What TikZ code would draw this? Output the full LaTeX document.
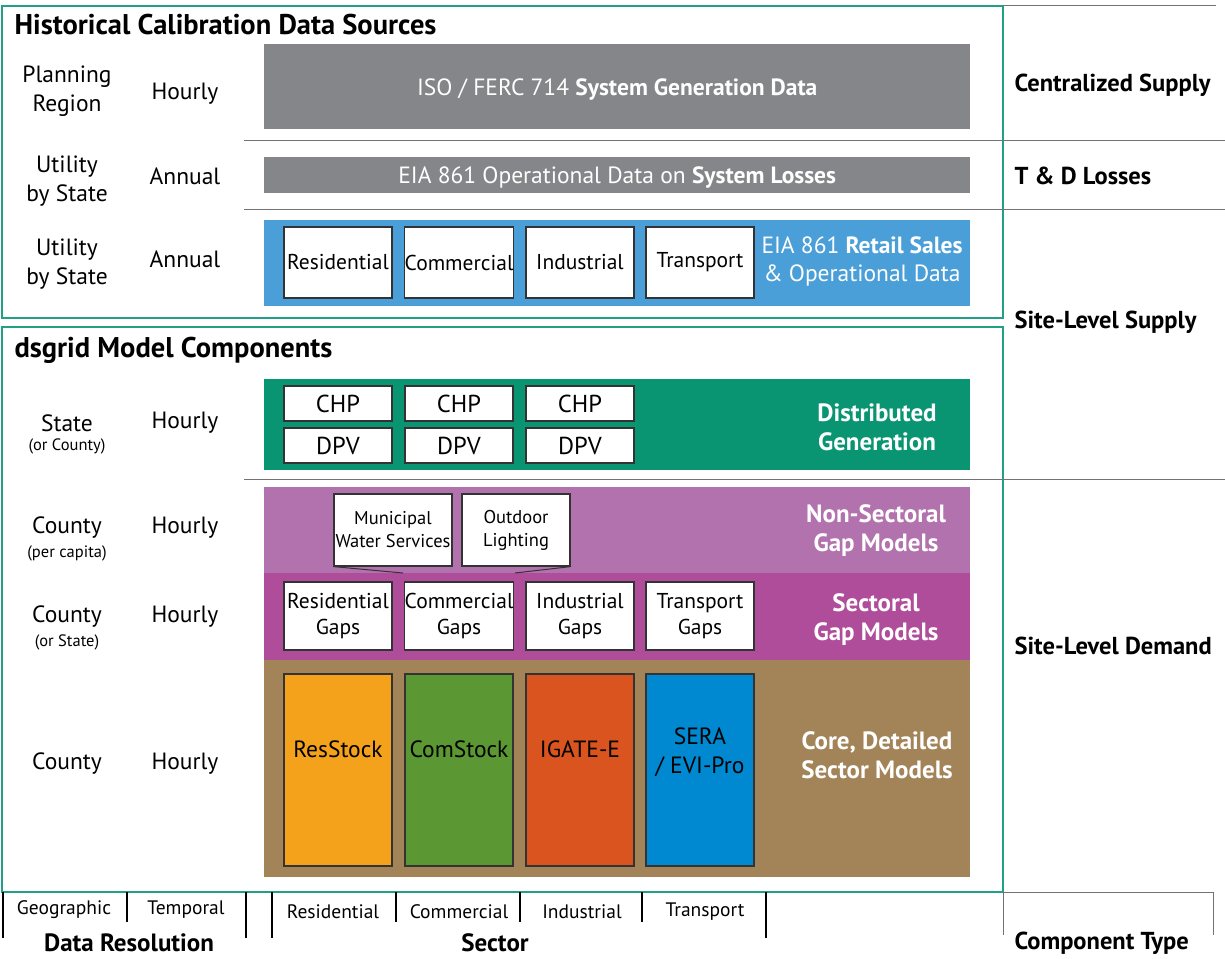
\documentclass[tikz,border=0pt]{standalone}
\usepackage{fontspec}
\setmainfont{PT Sans}
\usepackage{tikz}
\usetikzlibrary{positioning}
\definecolor{framecol}{HTML}{21A088}
\definecolor{gencol}{HTML}{858689}
\definecolor{retailcol}{HTML}{4A9FD9}
\definecolor{dgcol}{HTML}{0A9572}
\definecolor{nonseccol}{HTML}{B272AE}
\definecolor{seccol}{HTML}{B04D9B}
\definecolor{corecol}{HTML}{A38358}
\definecolor{rescol}{HTML}{F4A11C}
\definecolor{comcol}{HTML}{5B9733}
\definecolor{indcol}{HTML}{D9541F}
\definecolor{tracol}{HTML}{0088D0}

\begin{document}
\begin{tikzpicture}[x=1pt, y=-1pt, every node/.append style={font=\fontsize{23.5}{29}\selectfont},
    every label/.append style={font=\fontsize{16.5}{18}\selectfont, label distance=0pt}]
    \tikzstyle{band}=[anchor=north west, inner sep=0pt, minimum width=706, draw=none, text=white, align=center, text depth=0pt];
    \tikzstyle{bandlab}=[text=white, align=center, font=\bfseries\fontsize{25}{29}\selectfont];
    \tikzstyle{cell}=[draw=black!80, line width=1.2pt, fill=white, inner sep=0pt, minimum width=108, align=center];
    \tikzstyle{res}=[align=center];
    \tikzstyle{side}=[anchor=west, font=\bfseries\fontsize{24.5}{28}\selectfont];
    \tikzstyle{sep}=[draw=black!55, line width=1pt];
    \tikzstyle{tick}=[draw=black, line width=1.5pt];
    \tikzstyle{axis}=[font=\fontsize{19.5}{22}\selectfont];
    \tikzstyle{axistitle}=[font=\bfseries\fontsize{25}{28}\selectfont];
    \useasboundingbox (0,0) rectangle (1225,958);
    %frames
    \draw[framecol, line width=2.5pt] (2,6) rectangle (1003,318);
    \draw[framecol, line width=2.5pt] (2,327) rectangle (1003,892);
    \node[anchor=west, font=\bfseries\fontsize{28.5}{32}\selectfont] (hist) at (11,25) {Historical Calibration Data Sources};
    \node[anchor=west, font=\bfseries\fontsize{28.5}{32}\selectfont] (dsg) at (11,350) {dsgrid Model Components};
    %separators
    \draw[sep] (1003,6) -- (1216,6);
    \draw[sep] (244,140) -- (1225,140) (244,209) -- (1225,209) (244,479) -- (1225,479);
    %1 system generation
    \node[res] (geo1) at (67,91) {Planning\\Region};
    \node (tem1) at (185,94) {Hourly};
    \node[band, fill=gencol, minimum height=85] (sysgen) at (264,44) {ISO / FERC 714 \textbf{System Generation Data}};
    %2 system losses
    \node[res] (geo2) at (67,181) {Utility\\by State};
    \node (tem2) at (185,176) {Annual};
    \node[band, fill=gencol, minimum height=36] (losses) at (264,157) {EIA 861 Operational Data on \textbf{System Losses}};
    %3 retail sales
    \node[res] (geo3) at (67,264) {Utility\\by State};
    \node (tem3) at (185,259) {Annual};
    \node[band, fill=retailcol, minimum height=86] (retail) at (264,220) {};
    \node[cell, minimum height=71, font=\fontsize{21.5}{27}\selectfont] (rres) at (338,262.5) {Residential};
    \node[cell, minimum height=71, font=\fontsize{21.5}{27}\selectfont] (rcom) at (459,262.5) {Commercial};
    \node[cell, minimum height=71, font=\fontsize{21.5}{27}\selectfont] (rind) at (580,262.5) {Industrial};
    \node[cell, minimum height=71, font=\fontsize{21.5}{27}\selectfont] (rtra) at (700,262.5) {Transport};
    \node[res, text=white, font=\fontsize{23.5}{28}\selectfont] (retaillab) at (862,261) {EIA 861 \textbf{Retail Sales}\\\& Operational Data};
    %4 distributed generation
    \node (geo4) at (67,423) [label=below:(or County)] {State};
    \node (tem4) at (185,423) {Hourly};
    \node[band, fill=dgcol, minimum height=91] (dg) at (264,379) {};
    \node[cell, minimum height=35, font=\fontsize{24.5}{28}\selectfont] (chp1) at (338,403.5) {CHP};
    \node[cell, minimum height=35, font=\fontsize{24.5}{28}\selectfont] (chp2) at (459,403.5) {CHP};
    \node[cell, minimum height=35, font=\fontsize{24.5}{28}\selectfont] (chp3) at (580,403.5) {CHP};
    \node[cell, minimum height=35, font=\fontsize{24.5}{28}\selectfont] (dpv1) at (338,445.5) {DPV};
    \node[cell, minimum height=35, font=\fontsize{24.5}{28}\selectfont] (dpv2) at (459,445.5) {DPV};
    \node[cell, minimum height=35, font=\fontsize{24.5}{28}\selectfont] (dpv3) at (580,445.5) {DPV};
    \node[bandlab] (dglab) at (877,427) {Distributed\\Generation};
    %5 non-sectoral gaps
    \node (geo5) at (67,528) [label=below:(per capita)] {County};
    \node (tem5) at (185,528) {Hourly};
    \node[band, fill=nonseccol, minimum height=86] (nonsec) at (264,487) {};
    \node[cell, minimum width=118, minimum height=72, font=\fontsize{18.5}{23}\selectfont] (muni) at (393,530) {Municipal\\Water Services};
    \node[cell, minimum height=72, font=\fontsize{18.5}{23}\selectfont] (outl) at (516,530) {Outdoor\\Lighting};
    \node[bandlab] (nonseclab) at (876,531) {Non-Sectoral\\Gap Models};
    %6 sectoral gaps
    \node (geo6) at (67,617) [label=below:(or State)] {County};
    \node (tem6) at (185,617) {Hourly};
    \node[band, fill=seccol, minimum height=87] (sec) at (264,573) {};
    \node[cell, minimum height=68, font=\fontsize{21.5}{26}\selectfont] (gres) at (338,616) {Residential\\Gaps};
    \node[cell, minimum height=68, font=\fontsize{21.5}{26}\selectfont] (gcom) at (459,616) {Commercial\\Gaps};
    \node[cell, minimum height=68, font=\fontsize{21.5}{26}\selectfont] (gind) at (580,616) {Industrial\\Gaps};
    \node[cell, minimum height=68, font=\fontsize{21.5}{26}\selectfont] (gtra) at (700,616) {Transport\\Gaps};
    \node[bandlab] (seclab) at (876,620) {Sectoral\\Gap Models};
    \coordinate (fl) at (403,573);
    \coordinate (fr) at (515,573);
    \draw[black!80, line width=1pt] (muni.south west) -- (fl) (outl.south east) -- (fr);
    %7 core sector models
    \node (geo7) at (67,764) {County};
    \node (tem7) at (185,764) {Hourly};
    \node[band, fill=corecol, minimum height=217] (core) at (264,660) {};
    \node[cell, fill=rescol, minimum height=192] (mres) at (338,770) {};
    \node[cell, fill=comcol, minimum height=192] (mcom) at (459,770) {};
    \node[cell, fill=indcol, minimum height=192] (mind) at (580,770) {};
    \node[cell, fill=tracol, minimum height=192] (mtra) at (700,770) {};
    \node (resst) at (338,749) {ResStock};
    \node (comst) at (459,749) {ComStock};
    \node (igate) at (580,749) {IGATE-E};
    \node[res, font=\fontsize{23.5}{29}\selectfont] (sera) at (700,752) {SERA\\/ EVI-Pro};
    \node[bandlab] (corelab) at (877,755) {Core, Detailed\\Sector Models};
    %right column
    \node[side] (cs) at (1011,85) {Centralized Supply};
    \node[side] (td) at (1011,176) {T \& D Losses};
    \node[side] (ss) at (1011,322) {Site-Level Supply};
    \node[side] (sd) at (1011,646) {Site-Level Demand};
    %bottom axis
    \draw[tick] (3,892) -- (3,938) (127,892) -- (127,922) (246,892) -- (246,938);
    \draw[tick] (272,892) -- (272,938) (396,892) -- (396,922) (520,892) -- (520,922) (642,892) -- (642,922) (766,892) -- (766,938);
    \draw[sep] (1003,935) -- (1003,892) -- (1213,892) -- (1213,935);
    \node[axis] (ageo) at (64,910) {Geographic};
    \node[axis] (atem) at (186,910) {Temporal};
    \node[axis] (ares) at (333,912) {Residential};
    \node[axis] (acom) at (459,912) {Commercial};
    \node[axis] (aind) at (582,912) {Industrial};
    \node[axis] (atra) at (705,912) {Transport};
    \node[axistitle] (dres) at (129,943) {Data Resolution};
    \node[axistitle] (sect) at (495,943) {Sector};
    \node[side] (ctype) at (1011,943) {Component Type};
\end{tikzpicture}
\end{document}
